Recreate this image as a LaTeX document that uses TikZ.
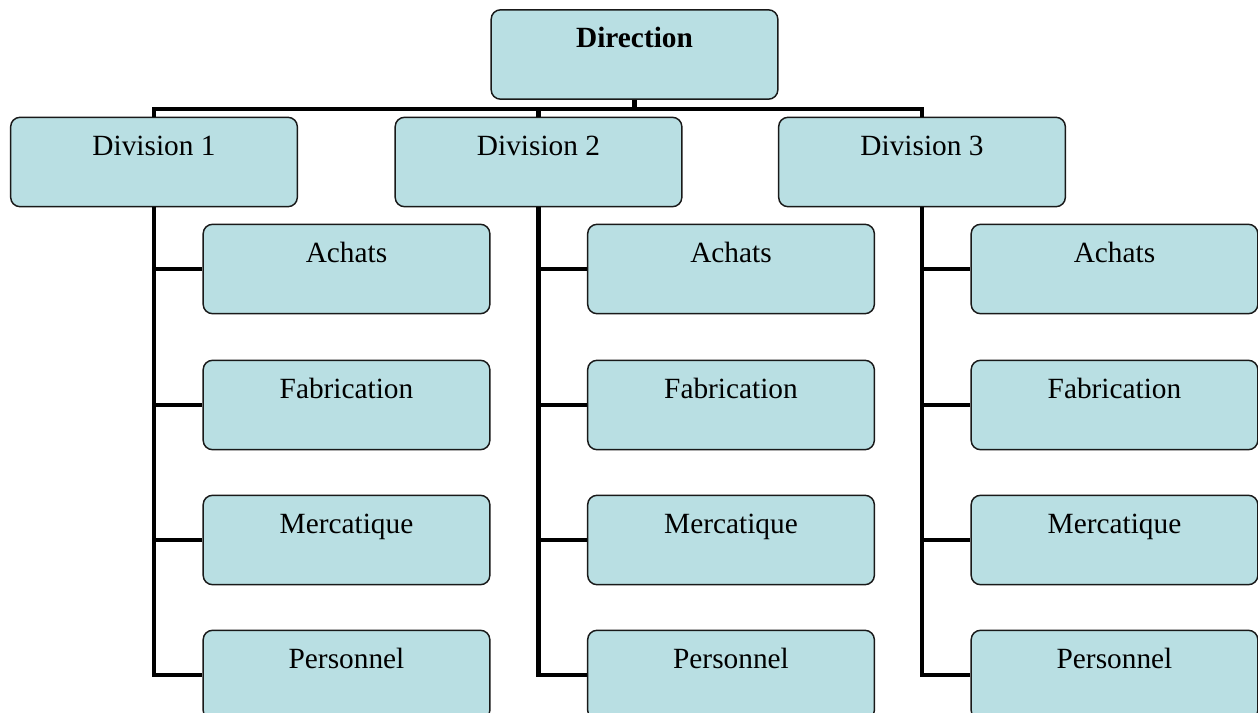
\documentclass[tikz,border=0pt]{standalone}
\usepackage{fontspec}
\setmainfont{Liberation Serif}
\definecolor{boxfill}{RGB}{185,223,227}
\definecolor{boxline}{RGB}{25,25,25}
\begin{document}
\begin{tikzpicture}[x=0.75pt,y=-0.75pt,
  orgbox/.style={draw=boxline,line width=1.1pt,fill=boxfill,rounded corners=7pt,
    inner xsep=0pt,inner ysep=0pt,minimum width=215pt,text height=28.5pt,text depth=38.5pt,
    font=\fontsize{22}{25}\selectfont},
  link/.style={line width=3.5pt,black,line join=miter}]
\useasboundingbox (0,0) rectangle (1258,713);
\fill[white] (0,0) rectangle (1258,713);
\node[orgbox,font=\fontsize{22}{25}\selectfont\bfseries] (dir) at (634.5,54.5) {Direction};
\node[orgbox] (d1) at (154,162) {Division 1};
\node[orgbox] (d2) at (538.5,162) {Division 2};
\node[orgbox] (d3) at (922,162) {Division 3};
\foreach \g/\x in {1/346.5,2/731,3/1114.5}{
  \node[orgbox] (a\g) at (\x,269) {Achats};
  \node[orgbox] (f\g) at (\x,405) {Fabrication};
  \node[orgbox] (m\g) at (\x,540) {Mercatique};
  \node[orgbox] (p\g) at (\x,675) {Personnel};
}
\coordinate (bus) at (0,109);
\draw[link] (dir.south) -- (dir.south |- bus);
\draw[link] (d1.north) -- (d1.north |- bus) -- (d3.north |- bus) -- (d3.north);
\draw[link] (d2.north) -- (d2.north |- bus);
\foreach \g in {1,2,3}{
  \draw[link] (d\g.south) |- (p\g.west);
  \draw[link] (d\g.south |- a\g.west) -- (a\g.west);
  \draw[link] (d\g.south |- f\g.west) -- (f\g.west);
  \draw[link] (d\g.south |- m\g.west) -- (m\g.west);
}
\end{tikzpicture}
\end{document}
